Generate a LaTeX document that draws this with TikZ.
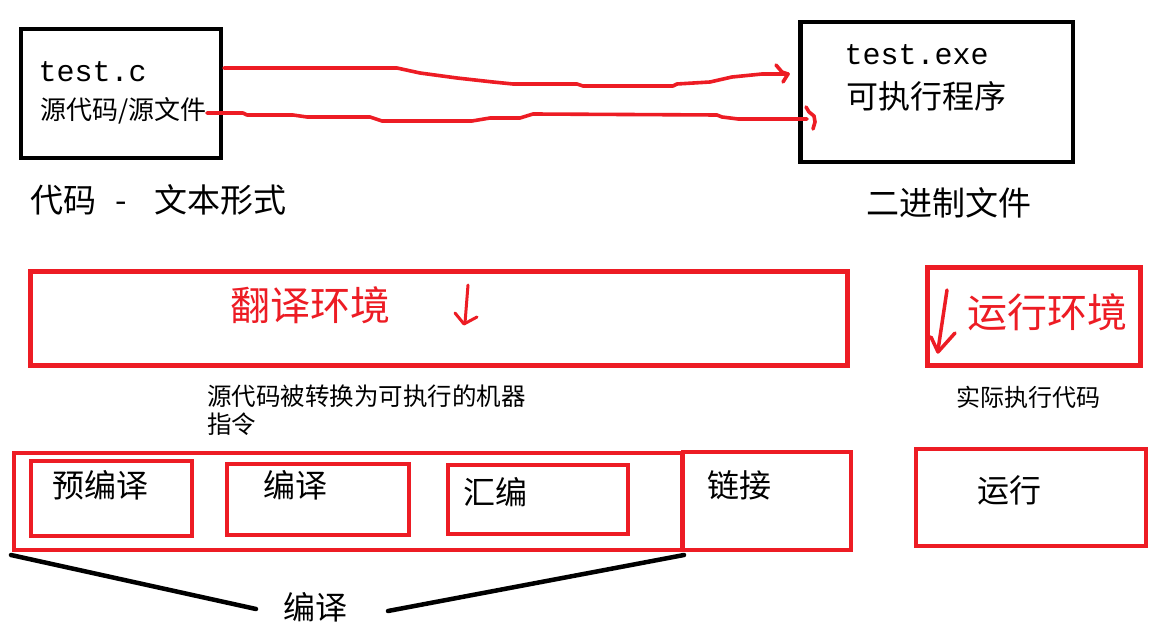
\documentclass[tikz,border=0pt]{standalone}
\usepackage{fontspec}
\newfontfamily\cjk{Noto Sans CJK SC}
\newfontfamily\monof{Liberation Mono}
\usetikzlibrary{fit}
\definecolor{pred}{HTML}{ED1C24}
\tikzset{
  bbox/.style={draw=black, line width=4.5pt, inner sep=0pt},
  rbox/.style={draw=pred, line width=4.5pt, inner sep=0pt},
  conn/.style={draw=pred, line width=3.6pt, line join=round, line cap=round},
  tip/.style={draw=pred, line width=3.6pt, line join=round, line cap=round},
  brace/.style={draw=black, line width=4.5pt, line cap=round},
  lbl/.style={inner sep=0pt, anchor=base west},
  cj/.style={font=\cjk\fontsize{#1}{#1}\selectfont},
  mono/.style={font=\monof\fontsize{30}{36}\selectfont}
}
\begin{document}
\begin{tikzpicture}[x=1pt,y=-1pt]
\fill[white] (0,0) rectangle (1175,636);
\useasboundingbox (0,0) rectangle (1175,636);

% top boxes
\node[bbox, fit={(21,29) (221,158)}] (tc) {};
\node[bbox, fit={(800.5,22) (1073,162)}] (exe) {};
\node[lbl, mono] (tcname) at (38.5,82) {test.c};
\node[lbl, cj=26] (tcdesc) at (40,119.5) {源代码/源文件};
\node[lbl, mono] (exename) at (844.5,65) {test.exe};
\node[lbl, cj=32] (exedesc) at (846,109) {可执行程序};
\node[lbl, cj=33] (txtform) at (30,212.5) {代码\hspace{19pt}-\hspace{28pt}文本形式};
\node[lbl, cj=33] (binfile) at (866,215.5) {二进制文件};

% connectors top
\coordinate (u0) at (224,68);
\coordinate (u1) at (788,74);
\coordinate (l0) at (207,113);
\coordinate (l1) at (807,119);
\draw[conn] (u0) -- (397,68) -- (420,73) -- (457,78) -- (493,82) -- (513,84) -- (577,84) -- (583,86)
  -- (673,86) -- (677,84) -- (710,82) -- (732,77) -- (762,74) -- (u1);
\draw[tip] (776,65) -- (782,72) -- (u1) -- (783,82);
\draw[conn] (l0) -- (243,113) -- (247,115) -- (293,115) -- (307,117) -- (370,117) -- (382,121)
  -- (472,121) -- (490,118) -- (520,118) -- (533,114) -- (717,115) -- (722,117) -- (738,119) -- (l1);
\draw[tip] (806,107) -- (809,112) -- (814,116) -- (815,122) -- (813,129);

% environments
\node[rbox, line width=5pt, fit={(30,272) (847,365)}] (trans) {};
\node[lbl, cj=40, text=pred] (transname) at (230,320) {翻译环境};
\draw[conn, line width=3pt] (468,285) -- (465,323);
\draw[tip, line width=3pt] (455,313) -- (464,324) -- (477,317);

\node[rbox, line width=5pt, fit={(927,268) (1140,365)}] (runenv) {};
\node[lbl, cj=40, text=pred] (runenvname) at (967,327) {运行环境};
\draw[conn, line width=3.5pt] (947,290) -- (938,350);
\draw[tip, line width=3.5pt] (931,337) -- (938,352) -- (955,333);

\node[inner sep=0pt, anchor=north west, align=left, font=\cjk\fontsize{24.5}{28}\selectfont] (desc) at (207,384.7)
  {源代码被转换为可执行的机器\\指令};
\node[lbl, cj=24] (rundesc) at (956,406) {实际执行代码};

% bottom stages
\node[rbox, line width=4pt, fit={(14,453) (682,550)}] (comp) {};
\node[rbox, line width=4pt, fit={(31,461) (192,536)}] (pre) {};
\node[rbox, line width=4pt, fit={(227,464) (409,535)}] (cc) {};
\node[rbox, line width=4pt, fit={(448,465) (628,534)}] (asm) {};
\node[rbox, line width=4pt, fit={(683,452) (851,550)}] (link) {};
\node[rbox, line width=4pt, fit={(916,449) (1146,546)}] (run) {};

\node[lbl, cj=32] (pretxt) at (52,497) {预编译};
\node[lbl, cj=32] (cctxt) at (263,497) {编译};
\node[lbl, cj=32] (asmtxt) at (463,504) {汇编};
\node[lbl, cj=32] (linktxt) at (707,497) {链接};
\node[lbl, cj=32] (runtxt) at (977,502) {运行};
\node[lbl, cj=32] (compname) at (283,619) {编译};

\coordinate (bl) at (256,609);
\coordinate (br) at (388,611);
\draw[brace] ([xshift=-1pt,yshift=-3pt]comp.south west) -- (bl);
\draw[brace] (br) -- ([xshift=3pt,yshift=-3pt]link.south west);
\end{tikzpicture}
\end{document}
